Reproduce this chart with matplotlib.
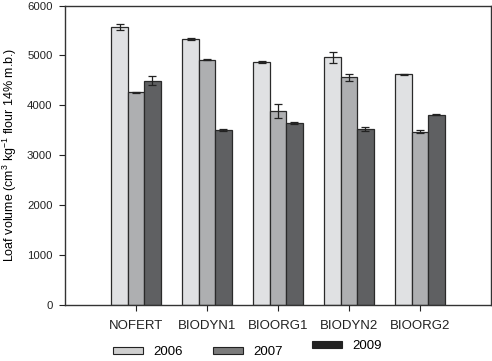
import matplotlib
matplotlib.use("Agg")
import matplotlib.pyplot as plt
import numpy as np
from matplotlib.patches import Patch

plt.rcParams['font.family'] = ['Liberation Sans', 'DejaVu Sans']
plt.rcParams['mathtext.fontset'] = 'custom'
plt.rcParams['mathtext.rm'] = 'Liberation Sans'
plt.rcParams['mathtext.it'] = 'Liberation Sans'
plt.rcParams['mathtext.bf'] = 'Liberation Sans'

categories = ["NOFERT", "BIODYN1", "BIOORG1", "BIODYN2", "BIOORG2"]
years = ["2006", "2007", "2009"]
v2006 = [5570, 5330, 4875, 4960, 4620]
v2007 = [4260, 4910, 3885, 4560, 3470]
v2009 = [4490, 3505, 3655, 3535, 3815]
e2006 = [55, 15, 20, 110, 10]
e2007 = [10, 10, 135, 70, 30]
e2009 = [90, 15, 20, 40, 10]

bar_colors = ["#e0e1e3", "#aeafb1", "#5f6062"]
legend_colors = ["#cfcfcf", "#7b7b7b", "#222222"]

W, H = 492, 361
fig = plt.figure(figsize=(W/100, H/100), dpi=100)
ax = fig.add_axes([65/W, 1-305/H, (491-65)/W, (305-5.5)/H])

x = np.arange(len(categories))
w = 0.232
for i, (vals, errs) in enumerate(zip([v2006, v2007, v2009], [e2006, e2007, e2009])):
    ax.bar(x + (i-1)*w, vals, width=w, color=bar_colors[i], edgecolor="#2a2a2a",
           linewidth=0.9, yerr=errs, capsize=3,
           error_kw=dict(elinewidth=0.9, capthick=0.9, ecolor="#222222"))

ax.set_xlim(-1.0, 5.0)
ax.set_ylim(0, 6000)
ax.set_yticks(range(0, 6001, 1000))
ax.set_xticks(x)
ax.set_xticklabels(categories)
ax.tick_params(axis='both', direction='out', length=4, width=0.8, colors="#222222")
ax.tick_params(axis='x', labelsize=9.5, pad=7)
ax.tick_params(axis='y', labelsize=8.2, pad=5)
for s in ax.spines.values():
    s.set_linewidth(1.0)
    s.set_color("#333333")
ax.set_ylabel("Loaf volume (cm$^{3}$ kg$^{-1}$ flour 14% m.b.)", fontsize=9, labelpad=6)

# legend entries (2009 sits slightly higher in the reference)
anchors = [(113, 352), (213, 352), (312, 346)]
for i in range(3):
    h = Patch(facecolor=legend_colors[i], edgecolor="#222222", linewidth=0.8, label=years[i])
    ax_x, ax_y = anchors[i]
    leg = fig.legend(handles=[h], loc='center left', bbox_to_anchor=(ax_x/W, 1-ax_y/H),
                     frameon=False, fontsize=9.5, handlelength=2.3, handleheight=0.5,
                     handletextpad=0.75, borderpad=0, borderaxespad=0)

fig.savefig("out.png", dpi=100)
